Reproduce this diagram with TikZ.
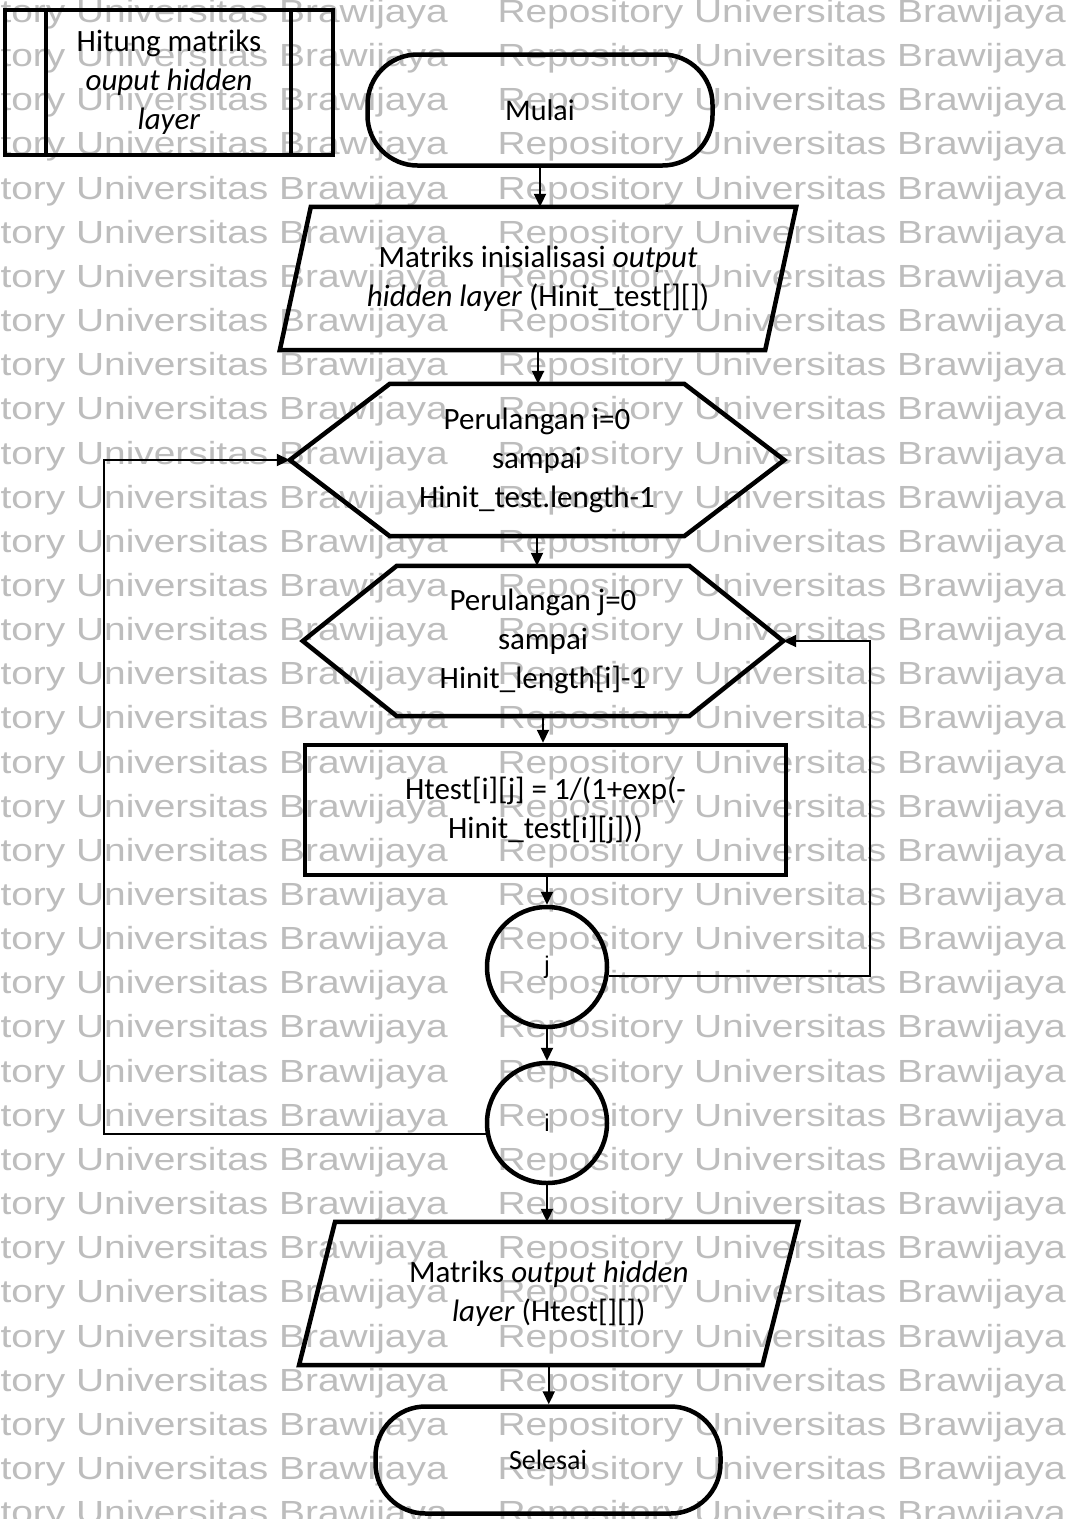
\documentclass[tikz,border=0pt]{standalone}
\usepackage{fontspec}
\usepackage{graphicx}
\setmainfont{Carlito}
\newfontfamily\wmfont{Liberation Sans}
\usetikzlibrary{arrows.meta,calc}
\definecolor{wmgray}{gray}{0.74}

% outline of an input/output box around an (invisible) node
\newcommand{\ioshape}[2]{%
  \draw[shapeline] ($(#1.north west)+(#2,0)$) -- ($(#1.north east)+(#2,0)$)
    -- ($(#1.south east)-(#2,0)$) -- ($(#1.south west)-(#2,0)$) -- cycle;}
% outline of a loop (hexagon) box around an (invisible) node
\newcommand{\loopshape}[2]{%
  \draw[shapeline] ($(#1.north west)+(#2,0)$) -- ($(#1.north east)-(#2,0)$)
    -- (#1.east) -- ($(#1.south east)-(#2,0)$) -- ($(#1.south west)+(#2,0)$)
    -- (#1.west) -- cycle;}

\begin{document}
\begin{tikzpicture}[x=1pt,y=-1pt,
  shapeline/.style={line width=4.5pt, line join=miter},
  conn/.style={line width=2pt},
  arr/.style={conn, -{Triangle[length=13pt,width=12pt]}},
  txt/.style={font=\fontsize{31}{39}\selectfont, align=center, inner sep=0pt},
  term/.style={txt, draw, shapeline, rounded corners=50pt, minimum width=345pt},
  connector/.style={draw, shapeline, circle, minimum size=120pt, inner sep=0pt,
    font=\wmfont\fontsize{24}{28}\selectfont},
  wm/.style={font=\wmfont\fontsize{32}{38}\selectfont, text=wmgray, inner sep=0pt, anchor=base east}]

\useasboundingbox (0,0) rectangle (1068,1519);
\clip (0,0) rectangle (1068,1519);
\fill[white] (0,0) rectangle (1068,1519);

% background stamp rows
\foreach \k in {0,...,34} {
  \pgfmathsetmacro\yb{22.5+44.15*\k}
  \node[wm] (wmR\k) at (1066,\yb) {\scalebox{1.215}[1]{Repository Universitas Brawijaya}};
  \node[wm] (wmL\k) at (448,\yb) {\scalebox{1.215}[1]{Repository Universitas Brawijaya}};
}

% predefined process box
\node[txt, minimum width=328pt, minimum height=145pt] (pp) at (169,82.5)
  {Hitung matriks\\\textit{ouput hidden}\\\textit{layer}};
\draw[shapeline] (pp.north west) rectangle (pp.south east);
\draw[shapeline] ($(pp.north west)+(41,0)$) -- ($(pp.south west)+(41,0)$);
\draw[shapeline] ($(pp.north east)-(42,0)$) -- ($(pp.south east)-(42,0)$);

% main flow
\node[term, minimum height=111pt, font=\fontsize{30}{36}\selectfont] (start) at (540,110) {Mulai};

\node[txt, minimum width=485pt, minimum height=143pt] (in1) at (538,278.5)
  {Matriks inisialisasi \textit{output}\\\textit{hidden layer} (Hinit\_test[][])};
\ioshape{in1}{15.5}

\node[txt, minimum width=494pt, minimum height=152pt] (h1) at (537,460)
  {Perulangan i=0\\sampai\\Hinit\_test.length-1};
\loopshape{h1}{100}

\node[txt, minimum width=480pt, minimum height=150pt] (h2) at (543,641)
  {Perulangan j=0\\sampai\\Hinit\_length[i]-1};
\loopshape{h2}{94}

\node[txt, draw, shapeline, minimum width=481pt, minimum height=130pt] (calc1) at (545.5,810)
  {Htest[i][j] = 1/(1+exp(-\\Hinit\_test[i][j]))};

\node[connector] (cj) at (547,967) {j};
\node[connector] (ci) at (547,1123) {i};

\node[txt, minimum width=463pt, minimum height=143pt] (out) at (548.75,1293.5)
  {Matriks \textit{output hidden}\\\textit{layer} (Htest[][])};
\ioshape{out}{18}

\node[term, minimum height=107pt, font=\fontsize{28}{34}\selectfont] (end) at (548,1460) {Selesai};

% connectors
\draw[arr] (start.south) -- (start.south |- in1.north);
\draw[arr] (in1.south) -- (in1.south |- h1.north);
\draw[arr] (h1.south) -- (h1.south |- h2.north);
\draw[arr] (h2.south) -- (h2.south |- calc1.north);
\draw[arr] (cj.north |- calc1.south) -- (cj.north);
\draw[arr] (cj.south) -- (ci.north);
\draw[arr] (ci.south) -- (ci.south |- out.north);
\draw[arr] (out.south) -- (out.south |- end.north);

% loop returns
\coordinate (rj) at (870,967);
\draw[arr] (cj.-8) -- (cj.-8 -| rj) |- (h2.east);
\coordinate (li) at (104,1123);
\draw[arr] (ci.190) -- (ci.190 -| li) |- (h1.west);
\end{tikzpicture}
\end{document}
